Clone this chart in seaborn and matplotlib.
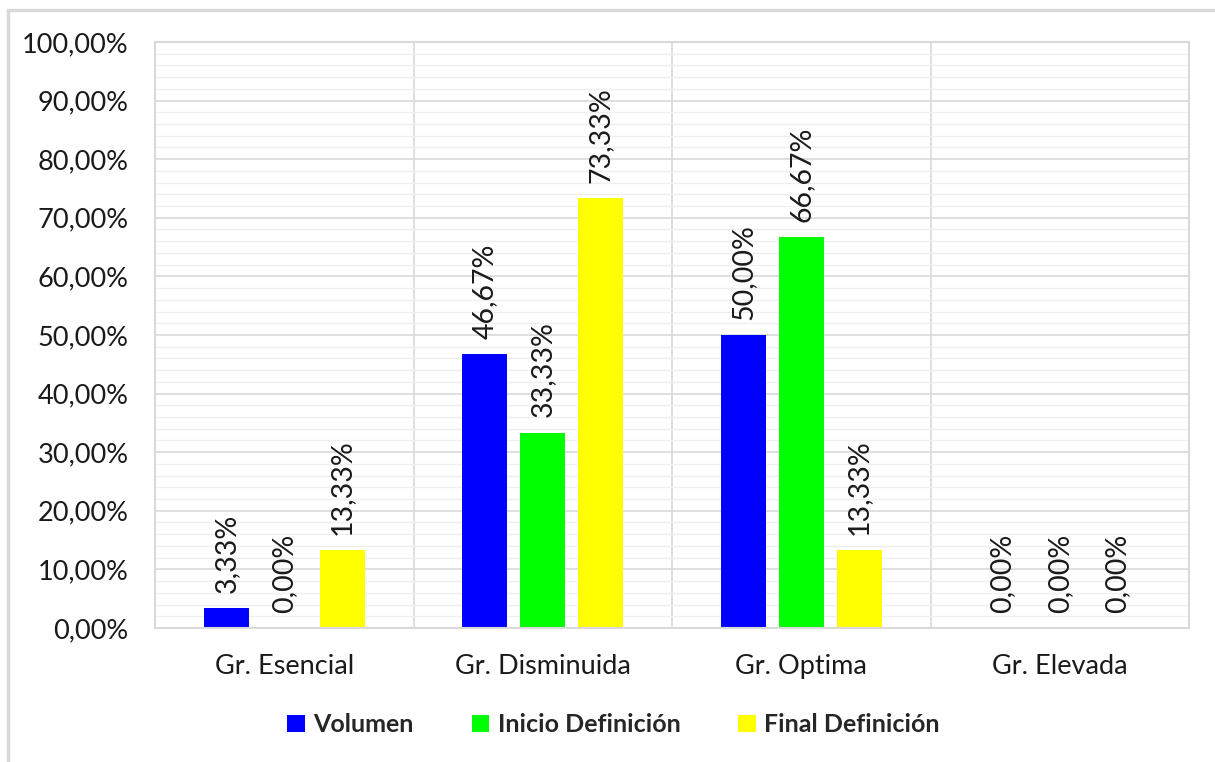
import matplotlib
matplotlib.use("Agg")
import matplotlib.pyplot as plt
from matplotlib.patches import Rectangle
from matplotlib.ticker import MultipleLocator, FuncFormatter
import numpy as np
import pandas as pd
import seaborn as sns

# Datos
categorias = ["Gr. Esencial", "Gr. Disminuida", "Gr. Optima", "Gr. Elevada"]
series = ["Volumen", "Inicio Definición", "Final Definición"]
volumen = [3.33, 46.67, 50.00, 0.00]
inicio_definicion = [0.00, 33.33, 66.67, 0.00]
final_definicion = [13.33, 73.33, 13.33, 0.00]
colores = ["#0000FF", "#00FF00", "#FFFF00"]
ticks_y = list(range(0, 101, 10))

df = pd.DataFrame({
    "categoria": categorias * 3,
    "serie": [s for s in series for _ in categorias],
    "valor": volumen + inicio_definicion + final_definicion,
})

sns.set_theme(style="white")
plt.rcParams["font.family"] = ["Lato", "DejaVu Sans"]

def pct(v):
    return f"{v:.2f}%".replace(".", ",")

fig = plt.figure(figsize=(12.15, 7.62), dpi=100)
ax = fig.add_axes([0.1276, 0.1759, 0.8510, 0.7690])

sns.barplot(data=df, x="categoria", y="valor", hue="serie",
            order=categorias, hue_order=series, palette=colores,
            width=0.672, gap=0.224, linewidth=0, saturation=1,
            legend=False, ax=ax)

for cont in ax.containers:
    vals = cont.datavalues
    ax.bar_label(cont, labels=[pct(v) for v in vals], rotation=90,
                 padding=11, fontsize=20.5, color="#1a1a1a")

ax.set_ylim(0, 100)
ax.set_xlim(-0.5, len(categorias) - 0.5)
ax.set_yticks(ticks_y)
ax.yaxis.set_major_formatter(FuncFormatter(lambda v, p: pct(v)))
ax.yaxis.set_minor_locator(MultipleLocator(2))
ax.set_axisbelow(True)
ax.grid(axis="y", which="major", color="#d9d9d9", lw=1.2)
ax.grid(axis="y", which="minor", color="#efefef", lw=1.0)
ax.vlines(np.arange(len(categorias) - 1) + 0.5, 0, 100, color="#d9d9d9",
          lw=1.2, zorder=0.5)
for sp in ax.spines.values():
    sp.set_color("#d9d9d9")
    sp.set_linewidth(1.5)
ax.tick_params(axis="y", length=0, pad=19, labelsize=19.5, labelcolor="#1a1a1a")
ax.tick_params(axis="x", length=0, pad=19, labelsize=19.5, labelcolor="#1a1a1a")
ax.set_xlabel("")
ax.set_ylabel("")

handles = [Rectangle((0, 0), 1, 1, facecolor=c, edgecolor="none") for c in colores]
fig.legend(handles, series, loc="center", bbox_to_anchor=(0.505, 0.0486),
           ncol=3, frameon=False, handlelength=0.7, handleheight=0.7,
           handletextpad=0.35, columnspacing=2.3,
           prop={"family": ["Lato", "DejaVu Sans"], "weight": "bold", "size": 18})

fig.patches.append(Rectangle((8 / 1215, -0.1), 1.2, 1 - 10 / 762 + 0.1,
                             transform=fig.transFigure, fill=False,
                             edgecolor="#d9d9d9", lw=2.5))

fig.savefig("out.png", dpi=100)
